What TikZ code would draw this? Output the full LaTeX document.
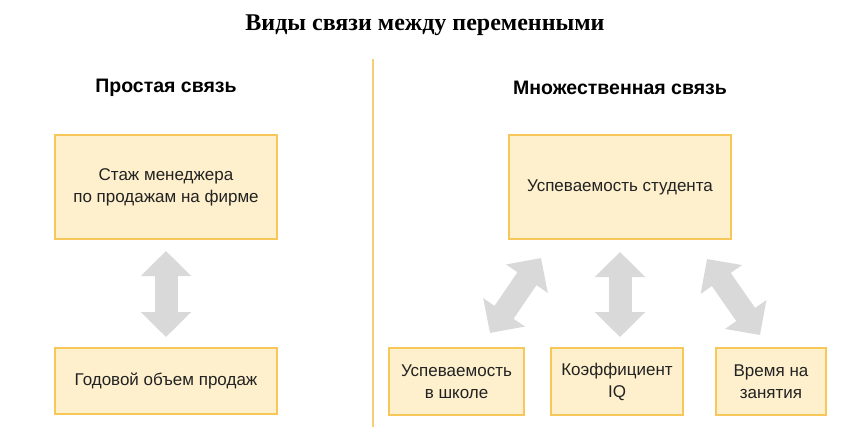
\documentclass[tikz,border=0pt]{standalone}
\usepackage{fontspec}
\setmainfont{Liberation Serif}
\newfontfamily\arialfont{Liberation Sans}
\usetikzlibrary{arrows.meta}
\definecolor{boxfill}{HTML}{FEF0CC}
\definecolor{boxline}{HTML}{F7C75A}
\definecolor{arrgray}{HTML}{D9D9D9}
\definecolor{txt}{HTML}{222222}
\definecolor{sepline}{HTML}{F6CF72}
\tikzset{
  varbox/.style={draw=boxline, line width=2bp, fill=boxfill, text=txt, align=center,
    font=\arialfont\fontsize{17bp}{22bp}\selectfont, inner sep=0pt},
  header/.style={font=\arialfont\bfseries\fontsize{19.5bp}{22bp}\selectfont, text=black},
  link/.style={arrgray, line width=23bp,
    {Triangle[width=49bp,length=25bp]}-{Triangle[width=49bp,length=25bp]}},
}
\begin{document}
\begin{tikzpicture}[x=1bp,y=-1bp]
\useasboundingbox (0,0) rectangle (853,428);
\node[font=\bfseries\fontsize{24bp}{28bp}\selectfont] (title) at (425,25) {Виды связи между переменными};
\draw[sepline, line width=1.3bp] (373,59) coordinate (s1) -- (373,427) coordinate (s2);
\node[header] (h1) at (166,88) {Простая связь};
\node[header] (h2) at (620,88) {Множественная связь};
\node[varbox, minimum width=222bp, minimum height=104bp] (b1) at (166,187) {Стаж менеджера\\по продажам на фирме};
\node[varbox, minimum width=222bp, minimum height=66bp] (b2) at (166,381) {Годовой объем продаж};
\node[varbox, minimum width=222bp, minimum height=104bp] (b3) at (620,187) {Успеваемость студента};
\node[varbox, minimum width=135bp, minimum height=67bp] (bA) at (456.5,381.5) {Успеваемость\\в школе};
\node[varbox, minimum width=132bp, minimum height=67bp] (bB) at (617,381.5) {Коэффициент\\IQ};
\node[varbox, minimum width=110bp, minimum height=67bp] (bC) at (771,381.5) {Время на\\занятия};
\draw[link] (b1.south) ++(0,11) coordinate (a1) -- (166,337) coordinate (a2);
\draw[link] (620,252) coordinate (m1) -- (620,337) coordinate (m2);
\coordinate (l1) at (490,333);
\coordinate (l2) at (541,258);
\draw[link] (l1) -- (l2);
\coordinate (r1) at (707,259);
\coordinate (r2) at (760,335);
\draw[link] (r1) -- (r2);
\end{tikzpicture}
\end{document}
